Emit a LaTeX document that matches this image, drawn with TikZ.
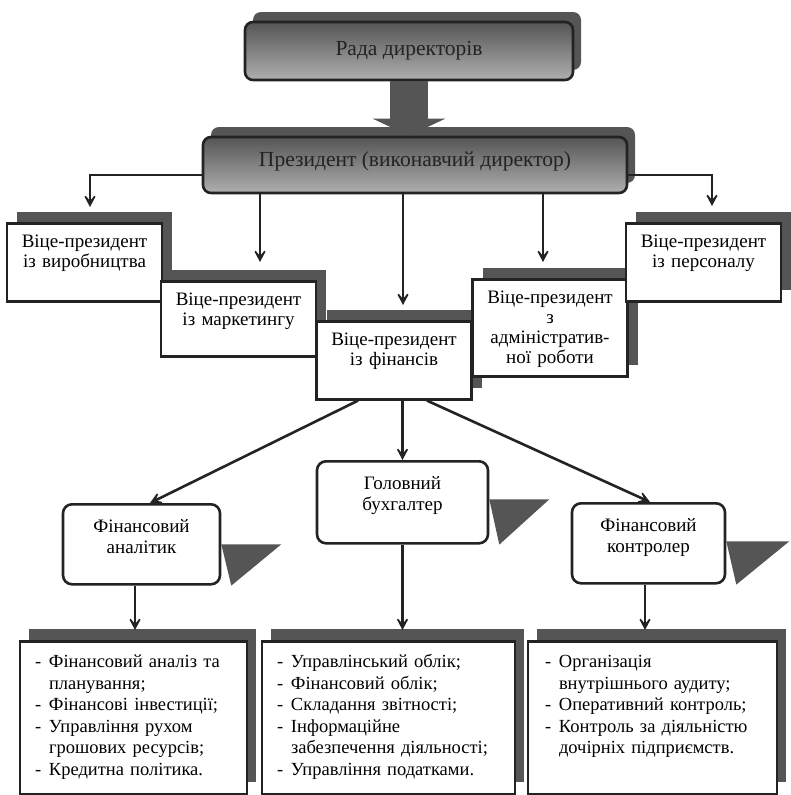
\documentclass[tikz,border=0pt]{standalone}
\usepackage{fontspec}
\setmainfont{Liberation Serif}
\usepackage{xcolor}
\usepackage{tikz}
\usetikzlibrary{arrows.meta, calc, shadows, backgrounds}
\definecolor{tinta}{RGB}{35, 35, 35}
\definecolor{sombra}{RGB}{85, 85, 85}
\definecolor{cinzaclaro}{RGB}{175, 175, 175}
\newcommand{\lstdash}{\makebox[14pt][l]{-}}
\newcommand{\lstind}{\hspace*{14pt}}

\begin{document}
\begin{tikzpicture}[x=1pt, y=-1pt,
    board/.style={draw=tinta, line width=2.6pt, rounded corners=8pt, top color=sombra, bottom color=cinzaclaro, inner sep=0pt, text=tinta, font=\fontsize{21.5}{24}\selectfont, drop shadow={shadow xshift=8pt, shadow yshift=10pt, fill=sombra, opacity=1}},
    vp/.style={draw=tinta, line width=2.6pt, fill=white, anchor=north, inner sep=0pt, text width=155pt, align=center, text height=24pt, font=\fontsize{19}{20}\selectfont, drop shadow={shadow xshift=10pt, shadow yshift=11pt, fill=sombra, opacity=1}},
    role/.style={draw=tinta, line width=2.6pt, fill=white, anchor=north, rounded corners=9pt, inner sep=0pt, align=center, text height=28.5pt, font=\fontsize{19}{21}\selectfont},
    duties/.style={draw=tinta, line width=2.6pt, fill=white, anchor=north, inner ysep=0pt, align=left, text height=26.5pt, text depth=126.5pt, font=\fontsize{18.5}{21.5}\selectfont, drop shadow={shadow xshift=9pt, shadow yshift=12pt, fill=sombra, opacity=1}},
    wedge/.style={fill=sombra},
    link/.style={draw=tinta, line width=2.6pt, -{Stealth[length=17pt, width=18pt, inset=11pt]}},
    bigarrow/.style={draw=sombra, line width=38pt, -{Triangle[length=17pt, width=72pt]}}
]
    \path[use as bounding box] (0,0) rectangle (791,795);

    % Top management
    \node[board, minimum width=328pt, minimum height=58pt] (rada) at (409,51) {Рада директорів};
    \node[board, minimum width=424pt, text height=29pt, text depth=27pt] (prez) at (415,165) {Президент (виконавчий директор)};

    % Vice-presidents
    \node[vp, text depth=54pt] (vpvyr) at (84.5,222) {Віце-президент\\із виробництва};
    \node[vp, text depth=51pt] (vpmark) at (238.5,280) {Віце-президент\\із маркетингу};
    \node[vp, text depth=54pt] (vpfin) at (394,320) {Віце-президент\\із фінансів};
    \node[vp, text depth=73pt] (vpadm) at (550,278) {Віце-президент\\з\\адміністратив-\\ної роботи};
    \node[vp, text depth=54pt] (vppers) at (703.5,222) {Віце-президент\\із персоналу};

    % Finance service
    \node[role, text width=157pt, text depth=51.5pt] (analit) at (141.5,503) {Фінансовий\\аналітик};
    \node[role, text width=171pt, text depth=53.5pt] (buh) at (402.5,460) {Головний\\бухгалтер};
    \node[role, text width=153pt, text depth=51.5pt] (kontr) at (648.5,502) {Фінансовий\\контролер};

    % Duties
    \node[duties, text width=197pt, inner xsep=15pt] (listan) at (133.5,640) {\lstdash Фінансовий аналіз та\\\lstind планування;\\\lstdash Фінансові інвестиції;\\\lstdash Управління рухом\\\lstind грошових ресурсів;\\\lstdash Кредитна політика.};
    \node[duties, text width=223pt, inner xsep=15pt] (listbuh) at (388.5,640) {\lstdash Управлінський облік;\\\lstdash Фінансовий облік;\\\lstdash Складання звітності;\\\lstdash Інформаційне\\\lstind забезпечення діяльності;\\\lstdash Управління податками.};
    \node[duties, text width=215pt, inner xsep=17pt] (listkontr) at (652.5,640) {\lstdash Організація\\\lstind внутрішнього аудиту;\\\lstdash Оперативний контроль;\\\lstdash Контроль за діяльністю\\\lstind дочірніх підприємств.};

    \begin{scope}[on background layer]
        \fill[white] (0,0) rectangle (791,795);
        \fill[wedge] (analit.east) -- ++(60,0) -- ([xshift=10pt]analit.south east) -- cycle;
        \fill[wedge] ([yshift=3pt]buh.east) -- ++(60,0) -- ([xshift=10pt]buh.south east) -- cycle;
        \fill[wedge] ([yshift=2pt]kontr.east) -- ++(63,0) -- ([xshift=10pt]kontr.south east) -- cycle;
    \end{scope}

    % Connections
    \draw[bigarrow] (rada.south) -- (rada.south |- prez.north);
    \draw[link] ([yshift=-10pt]prez.west) -| ([xshift=5.5pt, yshift=15pt]vpvyr.north);
    \draw[link] ([yshift=-10pt]prez.east) -| ([xshift=8.5pt, yshift=16pt]vppers.north);
    \coordinate (markin) at ([xshift=21.5pt, yshift=18pt]vpmark.north);
    \coordinate (finin) at ([xshift=9pt, yshift=15pt]vpfin.north);
    \coordinate (admin) at ([xshift=-7pt, yshift=16pt]vpadm.north);
    \draw[link] (prez.south -| markin) -- (markin);
    \draw[link] (prez.south -| finin) -- (finin);
    \draw[link] (prez.south -| admin) -- (admin);

    \draw[link] ([xshift=-36pt]vpfin.south) -- ([xshift=8.5pt]analit.north);
    \draw[link] (vpfin.south -| buh.north) -- (buh.north);
    \draw[link] ([xshift=33pt]vpfin.south) -- ([xshift=1.5pt]kontr.north);

    \draw[link] ([xshift=-6.5pt]analit.south) -- ([xshift=-6.5pt, yshift=10pt]analit.south |- listan.north);
    \draw[link] (buh.south) -- ([yshift=10pt]buh.south |- listbuh.north);
    \draw[link] ([xshift=-3.5pt]kontr.south) -- ([xshift=-3.5pt, yshift=10pt]kontr.south |- listkontr.north);
\end{tikzpicture}
\end{document}
